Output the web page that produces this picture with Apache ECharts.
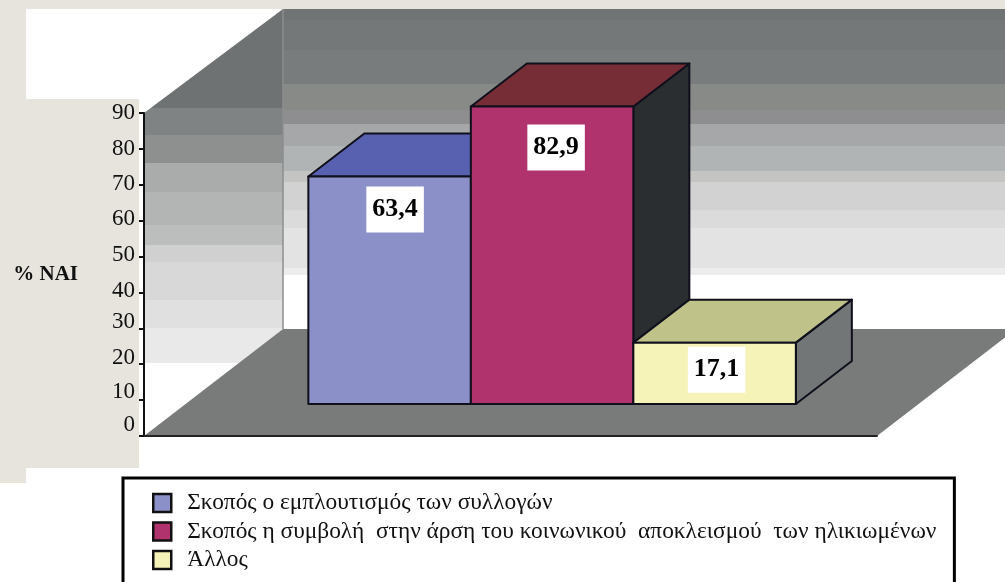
<!DOCTYPE html>
<html>
<head>
<meta charset="utf-8">
<style>
  html, body { margin: 0; padding: 0; background: #fff; }
  #chart { width: 1005px; height: 582px; }
</style>
<script src="https://cdn.jsdelivr.net/npm/echarts@6/dist/echarts.min.js"></script>
</head>
<body>
<div id="chart"></div>
<script>
const categories = [""];
const seriesNames = [
  "Σκοπός ο εμπλουτισμός των συλλογών",
  "Σκοπός η συμβολή  στην άρση του κοινωνικού  αποκλεισμού  των ηλικιωμένων",
  "Άλλος"
];
const seriesValues = [63.4, 82.9, 17.1];
const frontColors = ["#8b90c9", "#b0336e", "#f5f3b8"];
const topColors = ["#5761b0", "#772d35", "#bfc389"];
const sideColors = ["#3d4270", "#2b2e30", "#727676"];
// how far each white value box sits below the top of its bar
const labelDrop = [33, 41, 27];
const labelShift = [5.5, 4, 2];
// tick labels in the picture drift up towards the bottom of the axis
const tickLift = { 0: 11, 10: 8, 20: 6, 30: 6, 40: 1, 50: 2, 60: 2, 70: 1, 80: 0, 90: 0 };

const beige = "#e6e4dd";
const edge = "#10101c";
const barWidth = 162.5;
// bars stand 32px up the floor, and are 43px deep
const barOffset = [41.6, -32];
const barDepth = [56, -43];
const wallDepth = [139, -107];

function bands(rows) {
  const from = rows[0][0], to = rows[rows.length - 1][0];
  const stops = [];
  for (let i = 0; i < rows.length - 1; i++) {
    stops.push({ offset: (rows[i][0] - from) / (to - from), color: rows[i][1] });
    stops.push({ offset: (rows[i + 1][0] - from) / (to - from), color: rows[i][1] });
  }
  return { type: "linear", x: 0, y: from, x2: 0, y2: to, global: true, colorStops: stops };
}

const backWall = bands([
  [9, "#717474"], [20, "#757878"], [50, "#797c7c"], [84, "#888a88"], [110, "#8e8e90"],
  [124, "#a6a7a8"], [146, "#b1b4b4"], [171, "#c4c5c3"], [182, "#d1d2d1"], [210, "#dadbda"],
  [228, "#e3e3e3"], [268, "#ededed"], [275, "#ffffff"], [329, "#ffffff"]
]);
const leftWall = bands([
  [9, "#6f7272"], [108, "#808383"], [135, "#8d908f"], [163, "#a9acab"], [192, "#b2b5b4"],
  [225, "#bcbebd"], [245, "#cfd0cf"], [262, "#d7d8d7"], [300, "#dfe0df"], [328, "#e9e9e9"],
  [363, "#ffffff"], [436, "#ffffff"]
]);

function renderBar(params, api) {
  const i = params.seriesIndex;
  const p = api.coord([api.value(0), api.value(1)]);
  const base = api.coord([api.value(0), 0]);
  const x0 = p[0] + barOffset[0] + (i - 1.5) * barWidth;
  const x1 = x0 + barWidth;
  const yTop = p[1] + barOffset[1];
  const yBase = base[1] + barOffset[1];
  const dx = barDepth[0], dy = barDepth[1];
  const line = { stroke: edge, lineWidth: 2, lineJoin: "round" };
  const poly = (points, fill) => ({
    type: "polygon",
    shape: { points: points },
    style: Object.assign({ fill: fill }, line)
  });
  return {
    type: "group",
    children: [
      poly([[x1, yTop], [x1 + dx, yTop + dy], [x1 + dx, yBase + dy], [x1, yBase]], sideColors[i]),
      poly([[x0, yTop], [x0 + dx, yTop + dy], [x1 + dx, yTop + dy], [x1, yTop]], topColors[i]),
      poly([[x0, yTop], [x1, yTop], [x1, yBase], [x0, yBase]], frontColors[i]),
      {
        type: "text",
        style: {
          x: x0 + barWidth / 2 + labelShift[i],
          y: yTop + labelDrop[i],
          text: String(api.value(1)).replace(".", ","),
          fill: "#000",
          font: "bold 26px 'Liberation Serif'",
          align: "center",
          verticalAlign: "middle",
          backgroundColor: "#fff",
          padding: [10, 6, 10, 6]
        }
      }
    ]
  };
}

const tickRich = {};
Object.keys(tickLift).forEach(function (v) {
  tickRich["t" + v] = { padding: [0, 0, tickLift[v] * 2, 0] };
});

const chart = echarts.init(document.getElementById("chart"), null, { renderer: "canvas" });
chart.setOption({
  animation: false,
  backgroundColor: "#fff",
  graphic: [
    { type: "rect", z: -20, shape: { x: 0, y: 0, width: 1005, height: 9 }, style: { fill: beige } },
    { type: "rect", z: -20, shape: { x: 0, y: 9, width: 26, height: 474 }, style: { fill: beige } },
    { type: "rect", z: -20, shape: { x: 26, y: 99, width: 113, height: 369 }, style: { fill: beige } },
    {
      type: "polygon", z: -10,
      shape: { points: [[144, 113], [144 + wallDepth[0], 113 + wallDepth[1] + 3], [283, 329], [144, 436]] },
      style: { fill: leftWall }
    },
    {
      type: "rect", z: -10,
      shape: { x: 283, y: 9, width: 722, height: 320 },
      style: { fill: backWall }
    },
    {
      type: "line", z: -9,
      shape: { x1: 283, y1: 9, x2: 283, y2: 329 },
      style: { stroke: "#8c8e8e", lineWidth: 1.5 }
    },
    {
      type: "polygon", z: -8,
      shape: { points: [[144, 436], [144 + wallDepth[0], 436 + wallDepth[1]], [877 + wallDepth[0], 436 + wallDepth[1]], [877, 436]] },
      style: { fill: "#797b7b" }
    }
  ],
  grid: { left: 144, right: 128, top: 113, bottom: 146, outerBoundsMode: "none" },
  legend: {
    left: 123,
    top: 478,
    height: 300,
    orient: "vertical",
    data: seriesNames,
    icon: "rect",
    itemWidth: 18,
    itemHeight: 18,
    itemGap: 4.5,
    backgroundColor: "#fff",
    borderColor: "#000",
    borderWidth: 3,
    padding: [13, 18, 20, 29],
    selectedMode: false,
    itemStyle: { borderColor: "#111", borderWidth: 2.5 },
    textStyle: { fontFamily: "Liberation Serif", fontSize: 23.4, lineHeight: 24, color: "#111", padding: [0, 0, 0, 11] }
  },
  xAxis: {
    type: "category",
    data: categories,
    axisTick: { show: false },
    axisLabel: { show: false },
    axisLine: { lineStyle: { color: "#222", width: 2 } }
  },
  yAxis: {
    type: "value",
    min: 0,
    max: 90,
    interval: 10,
    name: "% NAI",
    nameLocation: "middle",
    nameRotate: 0,
    nameGap: 66,
    nameTextStyle: { fontFamily: "Liberation Serif", fontWeight: "bold", fontSize: 21, color: "#111" },
    splitLine: { show: false },
    axisLine: { show: true, onZero: false, lineStyle: { color: "#111", width: 2 } },
    axisTick: { show: true, length: 5, lineStyle: { color: "#111", width: 2 } },
    axisLabel: {
      margin: 9,
      fontFamily: "Liberation Serif",
      fontSize: 23,
      color: "#111",
      formatter: function (v) { return "{t" + v + "|" + v + "}"; },
      rich: tickRich
    }
  },
  series: seriesNames.map(function (name, i) {
    return {
      type: "custom",
      name: name,
      renderItem: renderBar,
      itemStyle: { color: frontColors[i], borderColor: edge, borderWidth: 2 },
      encode: { x: 0, y: 1 },
      data: [[0, seriesValues[i]]],
      clip: false,
      z: 2 + i
    };
  })
});
</script>
</body>
</html>
